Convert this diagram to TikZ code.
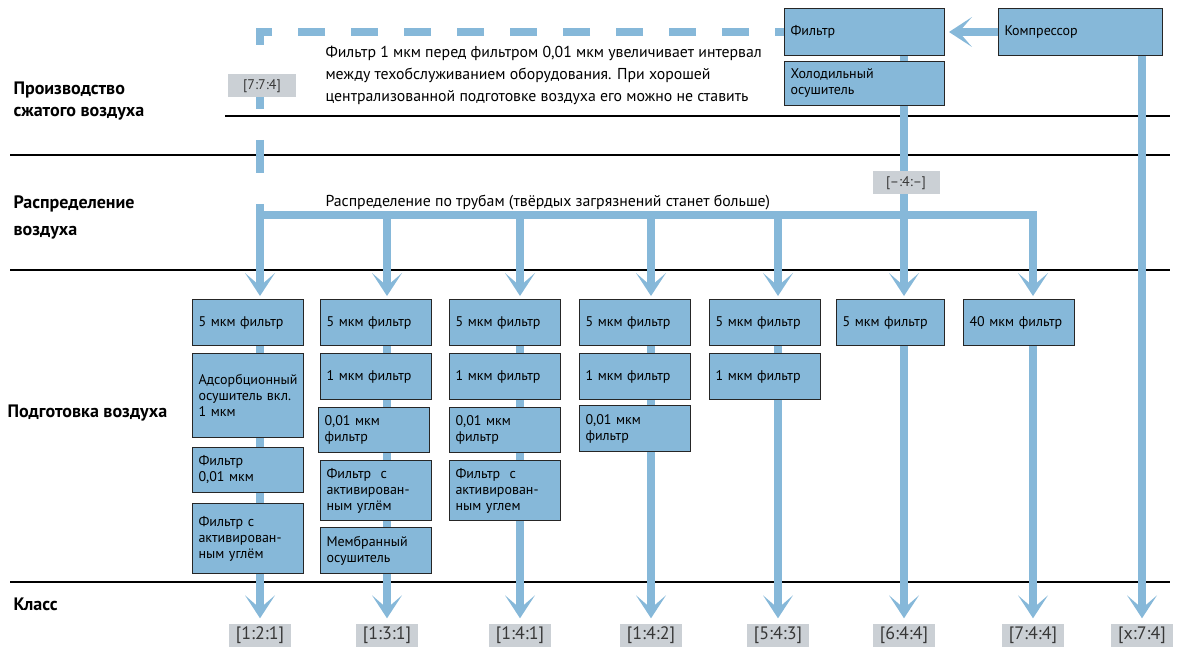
\documentclass[tikz,border=0pt]{standalone}
\usepackage{fontspec}
\setmainfont{PT Sans}
\usetikzlibrary{arrows.meta,backgrounds}
\definecolor{pipeblue}{RGB}{134,184,217}
\definecolor{tagfill}{RGB}{203,208,213}
\definecolor{tagtext}{RGB}{55,55,55}
\begin{document}
\begin{tikzpicture}[x=1pt,y=-1pt,>={Stealth[length=23pt,width=30pt,inset=13pt,line width=0pt]},
		pipe/.style={draw=pipeblue,line width=8pt},
		sepline/.style={line width=1.2pt},
		box/.style={draw=black!85,line width=1pt,fill=pipeblue,anchor=north west,align=left,inner xsep=6pt,inner ysep=0pt,text width=99pt,font=\fontsize{14}{16}\selectfont},
		tag/.style={fill=tagfill,text=tagtext,inner sep=0pt,minimum height=23pt},
		cls/.style={tag,minimum width=62pt,font=\fontsize{18}{18}\selectfont},
		stage/.style={anchor=west,align=left,font=\fontsize{18}{22}\selectfont\bfseries}]
	\useasboundingbox (0,0) rectangle (1188,652);
	\node[stage] (s1) at (10,101) {Производство\\сжатого воздуха};
	\node[stage] (s2) at (10,217) {Распределение\\[5pt]воздуха};
	\node[stage] (s3) at (4,413) {Подготовка воздуха};
	\node[stage] (s4) at (10,604) {Класс};
	\node[anchor=west,align=left,font=\fontsize{15.8}{22}\selectfont] (note) at (322,75) {Фильтр 1 мкм перед фильтром 0,01 мкм увеличивает интервал\\между техобслуживанием оборудования. При хорошей\\централизованной подготовке воздуха его можно не ставить};
	\node[anchor=west,font=\fontsize{15.8}{17}\selectfont] (pipetext) at (322,203) {Распределение по трубам (твёрдых загрязнений станет больше)};
	\node[box,text width=148pt,minimum height=47pt] (filt) at (784,8) {Фильтр};
	\node[box,text width=148pt,minimum height=44pt] (dryer) at (784,61) {Холодильный\\осушитель};
	\node[box,text width=152pt,minimum height=47pt] (komp) at (998,8) {Компрессор};
	\node[box,minimum height=46pt] (a1) at (192,299) {5 мкм фильтр};
	\node[box,minimum height=84pt] (a2) at (192,353) {Адсорбционный\\осушитель вкл.\\1 мкм};
	\node[box,minimum height=45pt] (a3) at (192,447) {Фильтр\\0,01 мкм};
	\node[box,minimum height=70pt] (a4) at (192,503) {Фильтр с\\активирован-\\ным углём};
	\node[box,minimum height=46pt] (b1) at (320,299) {5 мкм фильтр};
	\node[box,minimum height=46pt] (b2) at (320,353) {1 мкм фильтр};
	\node[box,minimum height=45pt] (b3) at (318,407) {0,01 мкм\\фильтр};
	\node[box,minimum height=60pt] (b4) at (320,460) {Фильтр~ с\\активирован-\\ным углём};
	\node[box,minimum height=46pt] (b5) at (320,527) {Мембранный\\осушитель};
	\node[box,minimum height=46pt] (c1) at (449,299) {5 мкм фильтр};
	\node[box,minimum height=46pt] (c2) at (449,353) {1 мкм фильтр};
	\node[box,minimum height=45pt] (c3) at (449,407) {0,01 мкм\\фильтр};
	\node[box,minimum height=60pt] (c4) at (449,460) {Фильтр~ с\\активирован-\\ным углем};
	\node[box,minimum height=46pt] (d1) at (579,299) {5 мкм фильтр};
	\node[box,minimum height=46pt] (d2) at (579,353) {1 мкм фильтр};
	\node[box,minimum height=46pt] (d3) at (579,405) {0,01 мкм\\фильтр};
	\node[box,minimum height=46pt] (e1) at (709,299) {5 мкм фильтр};
	\node[box,minimum height=46pt] (e2) at (709,353) {1 мкм фильтр};
	\node[box,text width=96pt,minimum height=46pt] (f1) at (836,299) {5 мкм фильтр};
	\node[box,minimum height=46pt] (g1) at (963,299) {40 мкм фильтр};
	\node[tag,minimum width=68pt,font=\fontsize{14}{14}\selectfont] (t1) at (262,86) {[7:7:4]};
	\node[tag,minimum width=67pt,font=\fontsize{14}{14}\selectfont] (t2) at (906,183) {[–:4:–]};
	\node[cls] (k1) at (260,635) {[1:2:1]};
	\node[cls] (k2) at (387,635) {[1:3:1]};
	\node[cls] (k3) at (520,635) {[1:4:1]};
	\node[cls] (k4) at (651,635) {[1:4:2]};
	\node[cls] (k5) at (778,635) {[5:4:3]};
	\node[cls] (k6) at (904,635) {[6:4:4]};
	\node[cls] (k7) at (1033,635) {[7:4:4]};
	\node[cls] (k8) at (1142,635) {[x:7:4]};
	\coordinate (mleft) at (260,215);
	\coordinate (mright) at (1033,215);
	\begin{scope}[on background layer]
		\draw[sepline] (225,116) -- (1170,116);
		\draw[sepline] (10,155) -- (1170,155);
		\draw[sepline] (10,270) -- (1170,270);
		\draw[sepline] (10,582) -- (1170,582);
		\draw[pipe,->,shorten >=4pt] (komp) -- (filt);
		\draw[pipe,dash pattern=on 27pt off 26pt,dash phase=18pt] (filt.west) -- ([xshift=-4pt]mleft |- filt.west);
		\draw[pipe,dash pattern=on 33pt off 31pt,dash phase=20pt] (mleft |- filt.west) -- (mleft);
		\draw[pipe] ([xshift=-4pt]mleft) -- ([xshift=4pt]mright);
		\draw[pipe,->,shorten >=3pt] (k6 |- filt.south) -- (k6 |- f1.north);
		\draw[pipe,->,shorten >=5pt] (k6 |- f1.south) -- (k6);
		\draw[pipe,->,shorten >=5pt] (k8 |- komp.south) -- (k8);
		\foreach \k/\t in {k1/a1,k2/b1,k3/c1,k4/d1,k5/e1,k7/g1}{
			\draw[pipe,->,shorten >=3pt] (\k |- mleft) -- (\k |- \t.north);
			\draw[pipe,->,shorten >=5pt] (\k |- \t.south) -- (\k);
		}
	\end{scope}
\end{tikzpicture}
\end{document}
